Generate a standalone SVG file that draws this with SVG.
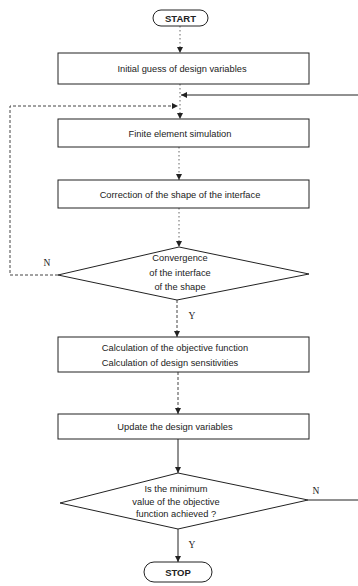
<svg xmlns="http://www.w3.org/2000/svg" width="358" height="586" viewBox="0 0 358 586">
<defs>
<style>
.box{fill:#fff;stroke:#222;stroke-width:1}
.t{font-family:"Liberation Sans",Arial,sans-serif;font-size:9.3px;fill:#222;text-anchor:middle}
.tb{font-family:"Liberation Sans",Arial,sans-serif;font-size:9.5px;font-weight:bold;fill:#222;text-anchor:middle}
.lbl{font-family:"Liberation Serif","Times New Roman",serif;font-size:9.5px;fill:#222;text-anchor:middle}
.c{fill:none;stroke:#222;stroke-width:1}
.dot{stroke-dasharray:1.5 2.5;stroke:#666}
.dash{stroke-dasharray:3 2;stroke:#444}
</style>
<marker id="ah" viewBox="0 0 6 6" markerWidth="6" markerHeight="6" refX="6" refY="3" orient="auto" markerUnits="userSpaceOnUse">
<path d="M0,0 L6,3 L0,6 z" fill="#222"/>
</marker>
</defs>
<rect width="358" height="586" fill="#fff"/>
<g id="connectors">
<line class="c dot" x1="180" y1="26" x2="180" y2="53" marker-end="url(#ah)"/>
<line class="c dot" x1="180" y1="84" x2="180" y2="119" marker-end="url(#ah)"/>
<path class="c" d="M308,500 H364 V95 H181" marker-end="url(#ah)"/>
<path class="c dash" d="M58,275 H10 V106 H178" marker-end="url(#ah)"/>
<line class="c dot" x1="179" y1="147" x2="179" y2="180" marker-end="url(#ah)"/>
<line class="c dot" x1="179" y1="208" x2="179" y2="247" marker-end="url(#ah)"/>
<line class="c dash" x1="177" y1="300" x2="177" y2="337" marker-end="url(#ah)"/>
<line class="c dash" x1="178" y1="372" x2="178" y2="414" marker-end="url(#ah)"/>
<line class="c" x1="178" y1="439" x2="178" y2="473" marker-end="url(#ah)"/>
<line class="c" x1="178" y1="529" x2="178" y2="562" marker-end="url(#ah)"/>
<text class="lbl" x="47" y="266">N</text>
<text class="lbl" x="192" y="319">Y</text>
<text class="lbl" x="316" y="494">N</text>
<text class="lbl" x="192" y="548">Y</text>
</g>
<g id="start">
<rect class="box" x="153" y="10" width="55" height="16" rx="8"/>
<text class="tb" x="180.5" y="21.5">START</text>
</g>
<g id="initial">
<rect class="box" x="58" y="53" width="251" height="31"/>
<text class="t" x="182" y="72">Initial guess of design variables</text>
</g>
<g id="fem">
<rect class="box" x="58" y="119" width="251" height="28"/>
<text class="t" x="180" y="136.5">Finite element simulation</text>
</g>
<g id="correction">
<rect class="box" x="58" y="180" width="251" height="28"/>
<text class="t" x="180" y="197.5">Correction of the shape of the interface</text>
</g>
<g id="convergence">
<polygon class="box" points="179,247 309,274 177,300 58,275"/>
<text class="t" x="180" y="261">Convergence</text>
<text class="t" x="180" y="276">of the interface</text>
<text class="t" x="180" y="290">of the shape</text>
</g>
<g id="calc">
<rect class="box" x="58" y="337" width="251" height="35"/>
<text class="t" x="175" y="350.5">Calculation of the objective function</text>
<text class="t" x="170" y="365.5">Calculation of design  sensitivities</text>
</g>
<g id="update">
<rect class="box" x="58" y="414" width="251" height="25"/>
<text class="t" x="175" y="430">Update the design variables</text>
</g>
<g id="minimum">
<polygon class="box" points="178,473 308,500 178,529 60,503"/>
<text class="t" x="176" y="492">Is the minimum</text>
<text class="t" x="176" y="505">value of the objective</text>
<text class="t" x="176" y="517">function achieved ?</text>
</g>
<g id="stop">
<rect class="box" x="144" y="562" width="68" height="20" rx="10"/>
<text class="tb" x="178" y="575.5">STOP</text>
</g>
</svg>
